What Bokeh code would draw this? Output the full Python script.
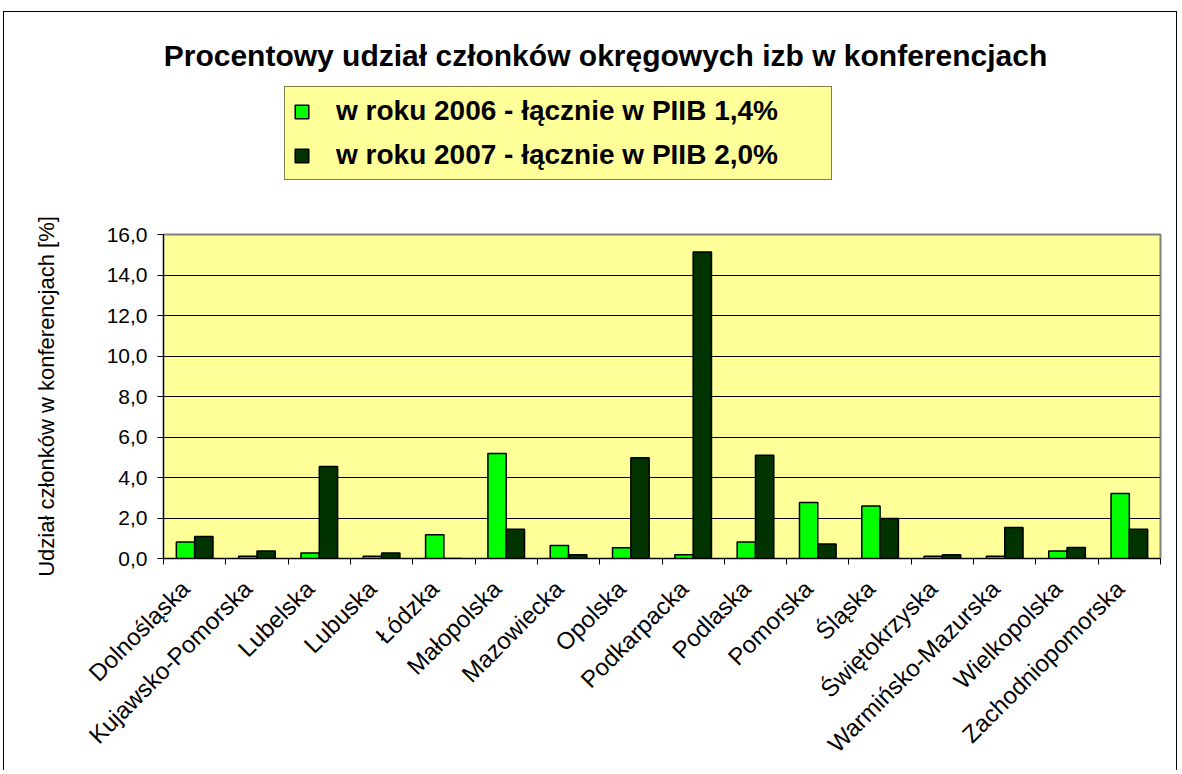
import numpy as np
from bokeh.plotting import figure
from bokeh.layouts import column
from bokeh.models import (ColumnDataSource, Range1d, FixedTicker, Legend, LegendItem, Label)
from bokeh.embed import file_html
from bokeh.resources import INLINE

categories = ["Dolnośląska", "Kujawsko-Pomorska", "Lubelska", "Lubuska", "Łódzka",
              "Małopolska", "Mazowiecka", "Opolska", "Podkarpacka", "Podlaska",
              "Pomorska", "Śląska", "Świętokrzyska", "Warmińsko-Mazurska",
              "Wielkopolska", "Zachodniopomorska"]
v2006 = [0.81, 0.11, 0.27, 0.11, 1.17, 5.18, 0.64, 0.53, 0.19, 0.81, 2.76, 2.59, 0.11, 0.11, 0.37, 3.21]
v2007 = [1.09, 0.37, 4.54, 0.27, 0.0, 1.44, 0.19, 4.98, 15.14, 5.10, 0.72, 1.98, 0.19, 1.53, 0.54, 1.44]
series_labels = ["w roku 2006 - łącznie w PIIB 1,4%", "w roku 2007 - łącznie w PIIB 2,0%"]
y_ticks = [0, 2, 4, 6, 8, 10, 12, 14, 16]
title_text = "Procentowy udział członków okręgowych izb w konferencjach"
y_title = "Udział członków w konferencjach [%]"

FONT = "Liberation Sans"
GREEN = "#00FF00"
DARK = "#003300"
n = len(categories)
idx = np.arange(n)
centers = idx + 0.5
bw = 0.294

src = ColumnDataSource(dict(x1=centers - bw / 2, x2=centers + bw / 2, a=v2006, b=v2007))

# ---------- header figure: title + legend ----------
W = 1172
H_TOP = 202
top = figure(width=W, height=H_TOP, x_range=Range1d(0, n), y_range=Range1d(0, 16),
             output_backend="svg", toolbar_location=None, title=None,
             min_border=0, x_axis_type=None, y_axis_type=None,
             background_fill_color="white", border_fill_color="white")
top.outline_line_color = None
top.grid.visible = False
# hidden copies of the series: they only supply the legend swatches
h1 = top.vbar(x="x1", top="a", bottom=0, width=bw, source=src, visible=False,
              fill_color=GREEN, line_color="black", line_width=1.5)
h2 = top.vbar(x="x2", top="b", bottom=0, width=bw, source=src, visible=False,
              fill_color=DARK, line_color="black", line_width=1.5)

top.add_layout(Label(x=442, y=159, x_units="screen", y_units="screen", text=title_text,
                     text_font=FONT, text_font_size="30px", text_font_style="bold",
                     text_align="center", text_baseline="middle", text_color="black"))

legend = Legend(items=[LegendItem(label=series_labels[0], renderers=[h1]),
                       LegendItem(label=series_labels[1], renderers=[h2])],
                location=(121, 34), orientation="vertical", click_policy="none",
                background_fill_color="#FFFF99", background_fill_alpha=1,
                border_line_color="black", border_line_width=1,
                inactive_fill_alpha=0,
                label_text_font=FONT, label_text_font_size="28px",
                label_text_font_style="bold", label_text_color="black",
                glyph_width=17, glyph_height=17, label_height=30, spacing=12,
                padding=8, margin=0, label_standoff=26, label_width=487)
top.add_layout(legend)

# ---------- main chart ----------
p = figure(width=W, height=556, x_range=Range1d(0, n), y_range=Range1d(0, 16),
           output_backend="svg", toolbar_location=None, title=None,
           min_border_left=159, min_border_top=20, min_border_right=16, min_border_bottom=202,
           background_fill_color="#FFFF99", border_fill_color="white")

p.vbar(x="x1", top="a", bottom=0, width=bw, source=src,
       fill_color=GREEN, line_color="black", line_width=1.5)
p.vbar(x="x2", top="b", bottom=0, width=bw, source=src,
       fill_color=DARK, line_color="black", line_width=1.5)

p.outline_line_color = "#808080"
p.outline_line_width = 2

p.xgrid.visible = False
p.ygrid.ticker = FixedTicker(ticks=y_ticks)
p.ygrid.grid_line_color = "black"
p.ygrid.grid_line_width = 1

yax = p.yaxis[0]
yax.ticker = FixedTicker(ticks=y_ticks)
yax.major_label_overrides = {t: f"{t:.1f}".replace(".", ",") for t in y_ticks}
yax.major_label_text_font = FONT
yax.major_label_text_font_size = "21px"
yax.major_label_text_color = "black"
yax.major_tick_out = 6
yax.major_tick_in = 0
yax.minor_tick_out = 0
yax.minor_tick_in = 0
yax.axis_line_color = "black"
yax.major_tick_line_color = "black"
yax.major_label_standoff = 10
yax.axis_label = y_title
yax.axis_label_text_font = FONT
yax.axis_label_text_font_size = "22px"
yax.axis_label_text_font_style = "normal"
yax.axis_label_text_color = "black"
yax.axis_label_standoff = 45

# category label anchors sit slightly left of the bar-pair centres, as in the original
label_pos = [round(c - 0.15, 2) for c in centers]
xax = p.xaxis[0]
xax.ticker = FixedTicker(ticks=label_pos, minor_ticks=list(range(n + 1)))
xax.major_label_overrides = {pos: name for pos, name in zip(label_pos, categories)}
xax.major_label_orientation = np.pi / 4
xax.major_label_text_font = FONT
xax.major_label_text_font_size = "24px"
xax.major_label_text_color = "black"
xax.major_tick_out = 0
xax.major_tick_in = 0
xax.minor_tick_out = 6
xax.minor_tick_in = 0
xax.minor_tick_line_color = "black"
xax.axis_line_color = "black"
xax.major_label_standoff = 20

layout = column(top, p, spacing=0)
layout.styles = {"border-left": "1px solid black", "border-top": "1px solid black",
                 "border-right": "1px solid black", "margin-left": "3px", "margin-top": "11px"}

open("out.html", "w").write(file_html(layout, INLINE))
